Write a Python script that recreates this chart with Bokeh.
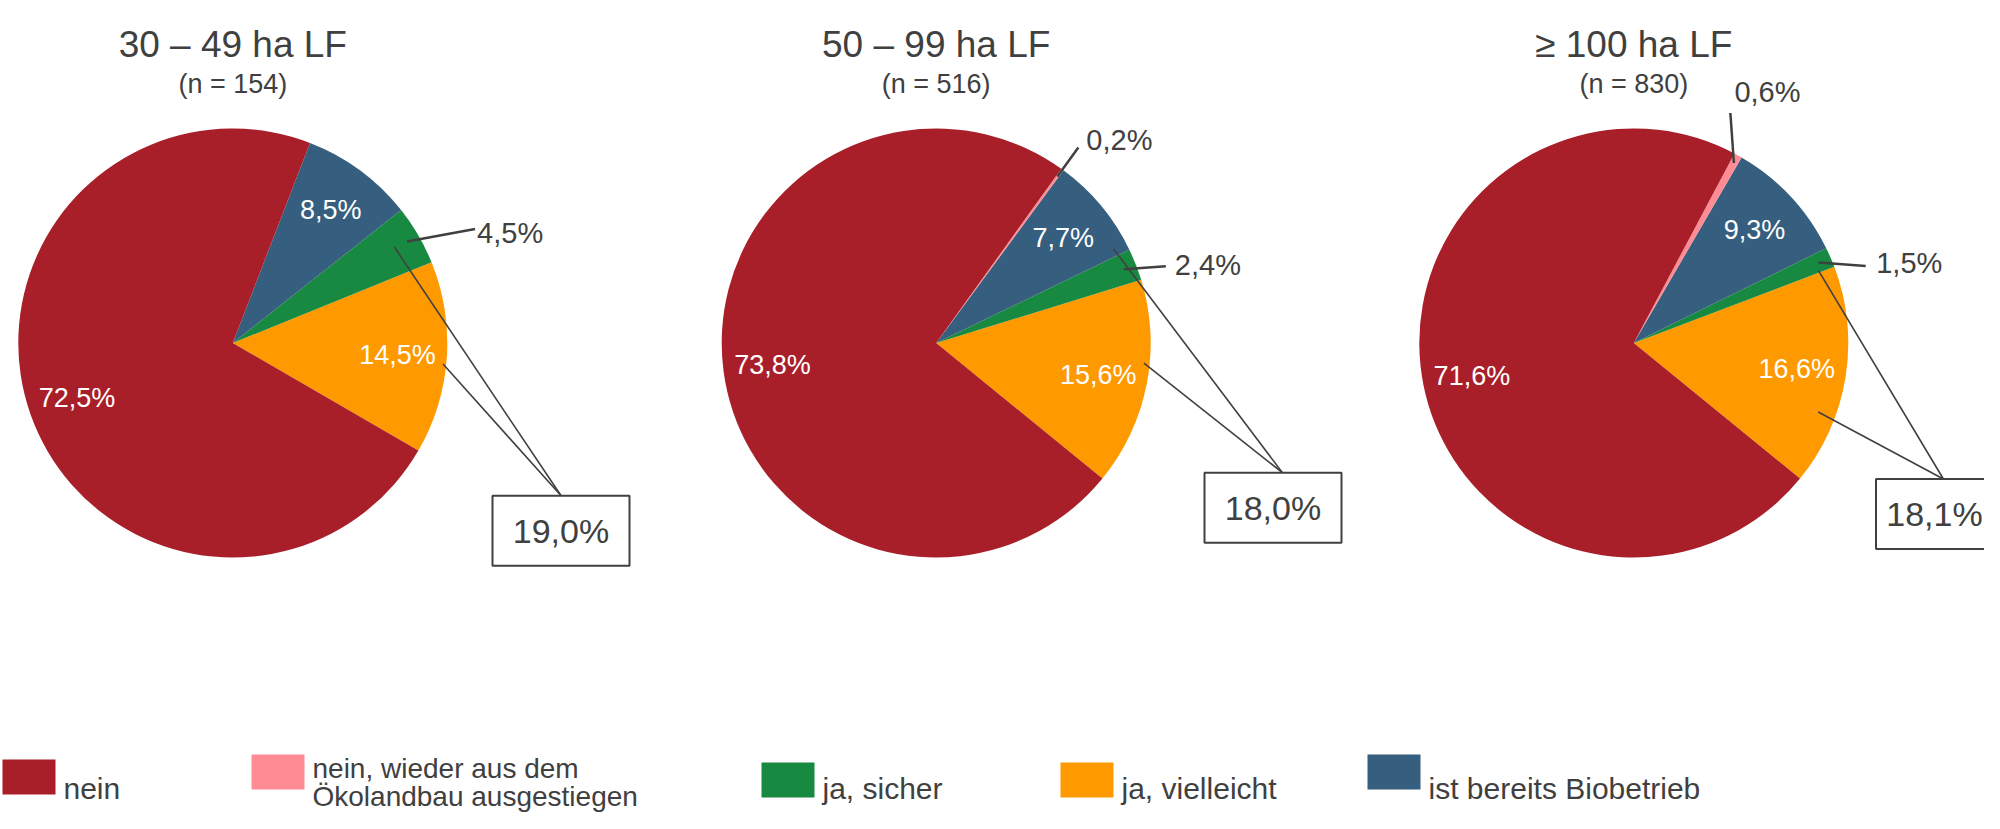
import math
from bokeh.plotting import figure
from bokeh.models import Range1d, ColumnDataSource
from bokeh.core.properties import value
from bokeh.embed import file_html
from bokeh.resources import INLINE

# ---------------- data ----------------
CATEGORIES = ["nein", "nein, wieder aus dem Ökolandbau ausgestiegen",
              "ja, sicher", "ja, vielleicht", "ist bereits Biobetrieb"]
LEGEND_LINES = [["nein"], ["nein, wieder aus dem", "Ökolandbau ausgestiegen"],
                ["ja, sicher"], ["ja, vielleicht"], ["ist bereits Biobetrieb"]]
COLORS = ["#A81F2A", "#FF8C94", "#188941", "#FF9900", "#365E7E"]
TITLES = ["30 – 49 ha LF", "50 – 99 ha LF", "≥ 100 ha LF"]
N_VALUES = [154, 516, 830]
PIE_30_49 = [72.5, 0.0, 4.5, 14.5, 8.5]
PIE_50_99 = [73.8, 0.2, 2.4, 15.6, 7.7]
PIE_100 = [71.6, 0.6, 1.5, 16.6, 9.3]
SERIES = [PIE_30_49, PIE_50_99, PIE_100]

# ---------------- layout (reference pixel space, y downwards) ----------------
W_REF, H_REF, MARGIN = 2000, 829, 8
FIG_W, FIG_H = W_REF - 2 * MARGIN, H_REF - 2 * MARGIN
CX = [232.3, 935.7, 1633.3]
CY = 342.5
R = 214.5
START_DEG = [-30.1, -39.2, -39.2]
CCW_ORDER = [3, 2, 4, 1, 0]          # orange, green, blue, pink, red
INSIDE = [0, 3, 4]
INSIDE_RF = 0.77
GREEN_RF, PINK_RF = 0.94, 0.96
GREEN_LEAD = [(68.0, -12.5), (42.0, -3.0), (47.0, 3.5)]
GREEN_LABEL = [(70.0, -8.8), (51.0, -4.2), (57.5, 0.0)]
PINK_LEAD = [None, (21.0, -29.0), (-3.5, -50.0)]
PINK_LABEL = [None, (29.0, -36.0), (0.5, -71.5)]
BOX_C = [(560.5, 530.3), (1272.5, 507.2), (1944.0, 513.5)]
BOX_TXT_DX = [0.0, 0.0, -10.0]
BOX_W, BOX_H = 137, 70
CONN_X = [560.6, 1281.9, 1942.9]
CONN_TARGETS = [[(30.7, 0.876), (-5.7, 0.985)],
                [(28.0, 0.936), (-5.5, 0.973)],
                [(21.4, 0.925), (-20.5, 0.918)]]
TITLE_Y, SUB_Y = 44.0, 83.3
LEG_SQ_X = [2, 251, 761, 1060, 1367]
LEG_SQ_Y = [759, 754, 762, 762, 754]
LEG_SQ_W, LEG_SQ_H = 53, 35
LEG_TXT_DX = 61
LEG_BASE = [788.3, 768.0, 788.3, 788.3, 787.7]
LEG_FS = ["30px", "28px", "30px", "30px", "30px"]
LEG_LINE_H = 28.0

FONT = "Liberation Sans"
TXT = "#404040"
FS_TITLE, FS_SUB, FS_IN, FS_OUT, FS_BOX = "37px", "27px", "27px", "29px", "34px"


def Y(y):
    return H_REF - y


def fmt(v):
    return f"{v:.1f}".replace(".", ",") + "%"


p = figure(width=FIG_W, height=FIG_H,
           x_range=Range1d(0, FIG_W),
           y_range=Range1d(H_REF - FIG_H, H_REF),
           output_backend="svg", toolbar_location=None,
           x_axis_location=None, y_axis_location=None,
           min_border=0, outline_line_color=None,
           background_fill_color="white", border_fill_color="white")
p.xgrid.visible = False
p.ygrid.visible = False

wx, wy, ws, we, wc = [], [], [], [], []
in_x, in_y, in_t = [], [], []
out_x, out_y, out_t = [], [], []
lead_xs, lead_ys = [], []
conn_xs, conn_ys = [], []
box_x, box_y, box_tx, box_t = [], [], [], []

for i, vals in enumerate(SERIES):
    total = sum(vals)
    a = math.radians(START_DEG[i])
    mids = {}
    for idx in CCW_ORDER:
        span = vals[idx] / total * 2 * math.pi
        if span > 0:
            wx.append(CX[i]); wy.append(Y(CY))
            ws.append(a); we.append(a + span); wc.append(COLORS[idx])
        mids[idx] = a + span / 2
        a += span
    # inside labels
    for idx in INSIDE:
        m = mids[idx]
        in_x.append(CX[i] + INSIDE_RF * R * math.cos(m))
        in_y.append(Y(CY) + INSIDE_RF * R * math.sin(m))
        in_t.append(fmt(vals[idx]))
    # outside labels with leader lines
    for idx, rf, lead, lab in ((2, GREEN_RF, GREEN_LEAD[i], GREEN_LABEL[i]),
                               (1, PINK_RF, PINK_LEAD[i], PINK_LABEL[i])):
        if vals[idx] <= 0 or lead is None:
            continue
        m = mids[idx]
        sx = CX[i] + rf * R * math.cos(m)
        sy = CY - rf * R * math.sin(m)
        lead_xs.append([sx, sx + lead[0]])
        lead_ys.append([Y(sy), Y(sy + lead[1])])
        out_x.append(sx + lab[0]); out_y.append(Y(sy + lab[1]))
        out_t.append(fmt(vals[idx]))
    # callout box: ja, sicher + ja, vielleicht
    bx, by = BOX_C[i]
    box_x.append(bx); box_y.append(Y(by)); box_tx.append(bx + BOX_TXT_DX[i])
    box_t.append(fmt(vals[2] + vals[3]))
    top = by - BOX_H / 2
    for ang, rf in CONN_TARGETS[i]:
        t = math.radians(ang)
        conn_xs.append([CONN_X[i], CX[i] + rf * R * math.cos(t)])
        conn_ys.append([Y(top), Y(CY) + rf * R * math.sin(t)])

p.wedge(x="x", y="y", radius=R, start_angle="s", end_angle="e",
        fill_color="c", line_color=None,
        source=ColumnDataSource(dict(x=wx, y=wy, s=ws, e=we, c=wc)))

p.text(x=in_x, y=in_y, text=in_t, text_font=value(FONT), text_font_size=FS_IN,
       text_color="white", text_align="center", text_baseline="middle")

p.multi_line(xs=lead_xs, ys=lead_ys, line_color=TXT, line_width=2.5)
p.text(x=out_x, y=out_y, text=out_t, text_font=value(FONT), text_font_size=FS_OUT,
       text_color=TXT, text_align="left", text_baseline="middle")

p.multi_line(xs=conn_xs, ys=conn_ys, line_color=TXT, line_width=1.6)
p.rect(x=box_x, y=box_y, width=BOX_W, height=BOX_H, fill_color="white",
       line_color=TXT, line_width=2)
p.text(x=box_tx, y=box_y, text=box_t, text_font=value(FONT), text_font_size=FS_BOX,
       text_color=TXT, text_align="center", text_baseline="middle")

# titles
p.text(x=CX, y=[Y(TITLE_Y)] * 3, text=TITLES, text_font=value(FONT),
       text_font_size=FS_TITLE, text_color=TXT, text_align="center",
       text_baseline="alphabetic")
p.text(x=CX, y=[Y(SUB_Y)] * 3, text=[f"(n = {n})" for n in N_VALUES],
       text_font=value(FONT), text_font_size=FS_SUB, text_color=TXT,
       text_align="center", text_baseline="alphabetic")

# legend
p.quad(left=LEG_SQ_X, right=[x + LEG_SQ_W for x in LEG_SQ_X],
       top=[Y(y) for y in LEG_SQ_Y], bottom=[Y(y + LEG_SQ_H) for y in LEG_SQ_Y],
       fill_color=COLORS, line_color=None)
lx, ly, lt, lf = [], [], [], []
for k, lines in enumerate(LEGEND_LINES):
    for j, line in enumerate(lines):
        lx.append(LEG_SQ_X[k] + LEG_TXT_DX)
        ly.append(Y(LEG_BASE[k] + j * LEG_LINE_H))
        lt.append(line)
        lf.append(LEG_FS[k])
p.text(x="x", y="y", text="t", text_font_size="fs", text_font=value(FONT),
       text_color=TXT, text_align="left", text_baseline="alphabetic",
       source=ColumnDataSource(dict(x=lx, y=ly, t=lt, fs=lf)))

open("out.html", "w").write(file_html(p, INLINE))
